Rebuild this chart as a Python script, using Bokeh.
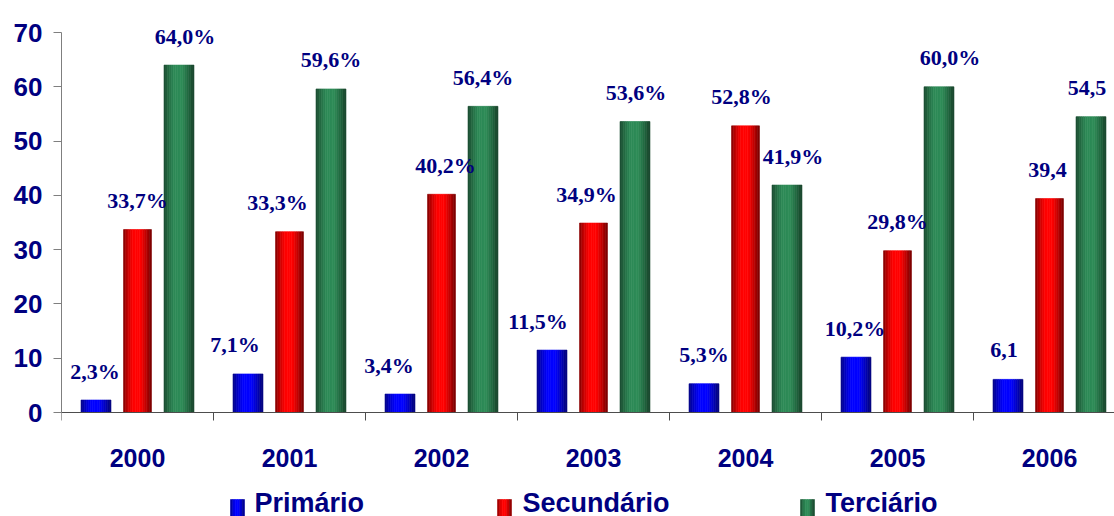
import numpy as np
from bokeh.plotting import figure
from bokeh.models import ColumnDataSource, Range1d, FixedTicker, Span
from bokeh.core.properties import value
from bokeh.embed import file_html
from bokeh.resources import INLINE

# ---------------- data ----------------
years = ["2000", "2001", "2002", "2003", "2004", "2005", "2006"]
series_names = ["Primário", "Secundário", "Terciário"]
primario = [2.3, 7.1, 3.4, 11.5, 5.3, 10.2, 6.1]
secundario = [33.7, 33.3, 40.2, 34.9, 52.8, 29.8, 39.4]
terciario = [64.0, 59.6, 56.4, 53.6, 41.9, 60.0, 54.5]
primario_labels = ["2,3%", "7,1%", "3,4%", "11,5%", "5,3%", "10,2%", "6,1"]
secundario_labels = ["33,7%", "33,3%", "40,2%", "34,9%", "52,8%", "29,8%", "39,4"]
terciario_labels = ["64,0%", "59,6%", "56,4%", "53,6%", "41,9%", "60,0%", "54,5"]
y_ticks = [0, 10, 20, 30, 40, 50, 60, 70]

# ---------------- styles / layout ----------------
NAVY = "#000080"
SANS = "Liberation Sans"
SERIF = "Liberation Serif"
W, H = 1114, 516
LEFT = 61                 # pixel x of the value axis
Y0_PX, Y70_PX = 412, 32   # pixel rows of 0 and 70
CAT_PX = 152              # pixel width of one year group
PX = (Y0_PX - Y70_PX) / 70.0   # pixels per unit

series_values = [primario, secundario, terciario]
series_labels = [primario_labels, secundario_labels, terciario_labels]
group_offsets = [-0.273, 0.0, 0.273]
bar_widths = [0.197, 0.184, 0.197]
bright_rgb = [(0, 0, 255), (255, 0, 0), (46, 139, 87)]
label_dx = [[-1, -13, -11, -14, 0, -1, -4],
            [0, -12, 4, -7, -4, 0, -2],
            [6, 0, 0, 1, 6, 11, -4]]
N_STRIPS = 16
legend_marker_left = [230, 497, 800]
legend_text_left = [254, 522, 825]
LEG_MARKER_TOP, LEG_BASELINE = 499, 502


def shade(t):
    if t < 0.35:
        return 0.45 + 0.55 * (t / 0.35) ** 0.7
    if t <= 0.6:
        return 1.0
    return 1.0 - 0.55 * ((t - 0.6) / 0.4) ** 1.2


def rgb_hex(rgb, f):
    return "#%02x%02x%02x" % tuple(int(round(c * f)) for c in rgb)


def xd(px):
    return (px - LEFT) / CAT_PX


def yd(py):
    return (Y0_PX - py) / PX


n_cat = len(years)
centers = np.arange(n_cat) + 0.5
y_lo, y_hi = yd(H), yd(0)

p = figure(width=W, height=H,
           x_range=Range1d(0, xd(W)), y_range=Range1d(y_lo, y_hi),
           output_backend="svg", toolbar_location=None, x_axis_location=None,
           min_border_left=LEFT, min_border_right=0, min_border_top=0, min_border_bottom=0,
           outline_line_color=None, background_fill_color="white", border_fill_color="white")
p.xgrid.visible = False
p.ygrid.visible = False
p.grid.grid_line_color = None

# bars drawn as thin vertical strips to imitate the cylinder shading
for s in range(3):
    w = bar_widths[s]
    sw = w / N_STRIPS
    for k in range(N_STRIPS):
        t = (k + 0.5) / N_STRIPS
        col = rgb_hex(bright_rgb[s], shade(t))
        src = ColumnDataSource(dict(x=centers + group_offsets[s] - w / 2 + (k + 0.5) * sw,
                                    top=series_values[s]))
        p.vbar(x="x", top="top", bottom=0, width=sw, source=src,
               fill_color=col, line_color=col, line_width=0.6)

# value labels
for s in range(3):
    src = ColumnDataSource(dict(x=centers + group_offsets[s], y=series_values[s],
                                txt=series_labels[s], dx=label_dx[s]))
    p.text(x="x", y="y", text="txt", source=src, x_offset="dx", y_offset=-29,
           text_align="center", text_baseline="alphabetic",
           text_font=value(SERIF), text_font_style="bold", text_font_size="22px",
           text_color=NAVY)

# y axis (line only between 0 and 70)
ya = p.yaxis[0]
ya.ticker = FixedTicker(ticks=y_ticks)
ya.bounds = (0, 70)
ya.axis_line_color = "#7f7f7f"
ya.major_tick_line_color = "#7f7f7f"
ya.major_tick_out = 8
ya.major_tick_in = 0
ya.minor_tick_line_color = None
ya.major_label_standoff = 11
ya.major_label_text_font = SANS
ya.major_label_text_font_style = "bold"
ya.major_label_text_font_size = "26px"
ya.major_label_text_color = NAVY

# category axis: base line at 0, ticks at group boundaries, year labels at centres
p.add_layout(Span(location=0, dimension="width", line_color="#4d4d4d", line_width=1))
bounds_x = list(range(n_cat + 1))
p.segment(x0=bounds_x, y0=[0] * len(bounds_x), x1=bounds_x, y1=[-8 / PX] * len(bounds_x),
          line_color="#4d4d4d", line_width=1)
p.text(x=centers, y=[0] * n_cat, text=years, y_offset=45,
       text_align="center", text_baseline="alphabetic",
       text_font=value(SANS), text_font_style="bold", text_font_size="25px",
       text_color=NAVY)

# legend
MW, MS = 14, 6
for s in range(3):
    for k in range(MS):
        t = (k + 0.5) / MS
        col = rgb_hex(bright_rgb[s], shade(t))
        p.vbar(x=[xd(legend_marker_left[s] + (k + 0.5) * MW / MS)], top=[yd(LEG_MARKER_TOP)],
               bottom=y_lo, width=MW / MS / CAT_PX, fill_color=col, line_color=col,
               line_width=0.6)
p.text(x=[xd(v) for v in legend_text_left], y=[yd(LEG_BASELINE)] * 3, text=series_names,
       text_align="left", text_baseline="alphabetic",
       text_font=value(SANS), text_font_style="bold", text_font_size="27px",
       text_color=NAVY)

open("out.html", "w").write(file_html(p, INLINE))
